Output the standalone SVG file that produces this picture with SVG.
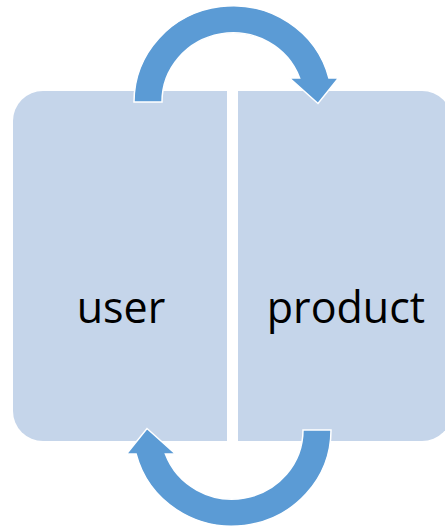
<svg xmlns="http://www.w3.org/2000/svg" xmlns:xlink="http://www.w3.org/1999/xlink" width="445" height="527" viewBox="0 0 445 527">
  <style>
    .box { fill: #C5D5EA; }
    .label { font-family: "Open Sans", "Noto Sans", "Liberation Sans", sans-serif; font-size: 43px; fill: #000000; text-anchor: middle; }
    .arrow { fill: #5B9BD5; stroke: #FFFFFF; stroke-width: 1.5; stroke-linejoin: miter; }
  </style>
  <defs>
    <path id="circArrow" d="M134,102 A99,96 0 0 1 328.9,78 L338.5,78 L318,103.5 L289.5,78 L299.6,78 A71,69 0 0 0 162,102 Z"/>
  </defs>
  <rect width="445" height="527" fill="#FFFFFF"/>
  <g id="user">
    <path class="box" d="M43,91 L227,91 L227,441 L43,441 A30,30 0 0 1 13,411 L13,121 A30,30 0 0 1 43,91 Z"/>
    <text class="label" x="121" y="323">user</text>
  </g>
  <g id="product">
    <path class="box" d="M238,91 L422,91 A30,30 0 0 1 452,121 L452,411 A30,30 0 0 1 422,441 L238,441 Z"/>
    <text class="label" x="346" y="323">product</text>
  </g>
  <g id="connectors">
    <use xlink:href="#circArrow" class="arrow"/>
    <use xlink:href="#circArrow" class="arrow" transform="rotate(180 232.5 266)"/>
  </g>
</svg>
